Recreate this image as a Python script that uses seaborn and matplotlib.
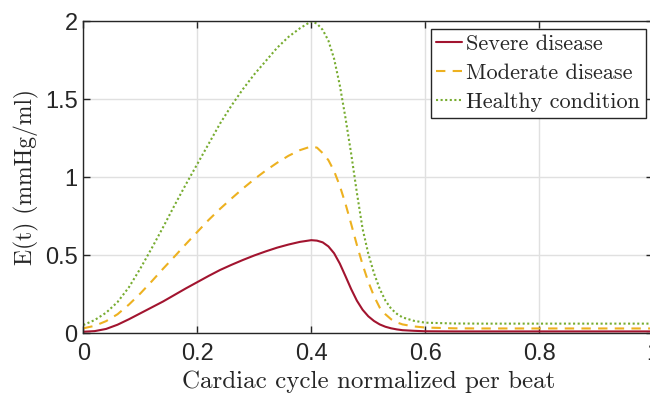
import numpy as np
import pandas as pd
import matplotlib
matplotlib.use('Agg')
import matplotlib.pyplot as plt
import seaborn as sns

# normalized cardiac cycle (denser sampling on the steep fall)
t_beat = [0.00, 0.02, 0.04, 0.06, 0.08, 0.10, 0.12, 0.14, 0.16, 0.18, 0.20,
          0.22, 0.24, 0.26, 0.28, 0.30, 0.32, 0.34, 0.36, 0.38, 0.40,
          0.41, 0.42, 0.43, 0.44, 0.45, 0.46, 0.47, 0.48, 0.49, 0.50,
          0.51, 0.52, 0.53, 0.54, 0.55, 0.56, 0.58, 0.60, 0.65, 0.70,
          0.80, 0.90, 1.00]

# elastance E(t), values
severe = [0.010, 0.014, 0.028, 0.055, 0.090, 0.128, 0.166, 0.204, 0.246, 0.288, 0.328,
          0.368, 0.406, 0.439, 0.470, 0.499, 0.525, 0.549, 0.569, 0.586, 0.597,
          0.594, 0.583, 0.557, 0.513, 0.447, 0.366, 0.283, 0.209, 0.151, 0.109,
          0.079, 0.057, 0.042, 0.032, 0.025, 0.020, 0.016, 0.013, 0.012, 0.012,
          0.012, 0.012, 0.012]
moderate = [0.032, 0.048, 0.078, 0.122, 0.184, 0.255, 0.333, 0.414, 0.492, 0.572, 0.650,
            0.727, 0.798, 0.864, 0.928, 0.988, 1.043, 1.093, 1.138, 1.174, 1.198,
            1.190, 1.155, 1.110, 1.040, 0.945, 0.830, 0.700, 0.566, 0.440, 0.330,
            0.238, 0.165, 0.122, 0.090, 0.070, 0.057, 0.044, 0.037, 0.032, 0.031,
            0.031, 0.031, 0.031]
healthy = [0.053, 0.085, 0.132, 0.200, 0.295, 0.415, 0.545, 0.680, 0.820, 0.955, 1.085,
           1.215, 1.345, 1.460, 1.565, 1.660, 1.745, 1.830, 1.900, 1.955, 2.000,
           1.985, 1.945, 1.876, 1.760, 1.590, 1.380, 1.150, 0.900, 0.670, 0.510,
           0.385, 0.285, 0.210, 0.158, 0.125, 0.102, 0.080, 0.068, 0.063, 0.062,
           0.062, 0.062, 0.062]

series_names = ['Severe disease', 'Moderate disease', 'Healthy condition']
x_ticks = [0, 0.2, 0.4, 0.6, 0.8, 1]
y_ticks = [0, 0.5, 1, 1.5, 2]

df = pd.DataFrame({'t': t_beat, series_names[0]: severe,
                   series_names[1]: moderate, series_names[2]: healthy})

sns.set_style('whitegrid')
plt.rcParams['font.family'] = ['Liberation Sans', 'DejaVu Sans']

fig = plt.figure(figsize=(6.5, 3.95), dpi=100)
ax = fig.add_axes([83.3 / 650, (395 - 333.3) / 395, 570 / 650, 312 / 395])

colors = ['#A2142F', '#EDB120', '#77AC30']
styles = ['-', (0, (4.5, 3.5)), (0, (1, 1.2))]
for name, c, ls in zip(series_names, colors, styles):
    sns.lineplot(data=df, x='t', y=name, ax=ax, color=c, linestyle=ls,
                 linewidth=1.5, label=name)

ax.set_xlim(0, 1)
ax.set_ylim(0, 2)
ax.set_xticks(x_ticks)
ax.set_yticks(y_ticks)
ax.set_xticklabels([f'{v:g}' for v in x_ticks])
ax.set_yticklabels([f'{v:g}' for v in y_ticks])
ax.tick_params(direction='in', length=5, width=1, color='#262626',
               labelsize=17, labelcolor='#262626', top=True, right=True,
               bottom=True, left=True, pad=4)
ax.tick_params(axis='x', pad=7)
ax.grid(True, color='#e0e0e0', linewidth=1)
for sp in ax.spines.values():
    sp.set_visible(True)
    sp.set_color('#262626')
    sp.set_linewidth(1)

ax.set_xlabel('Cardiac cycle normalized per beat', family='cmr10', fontsize=18,
              color='#262626', labelpad=4)
ax.set_ylabel('E(t) (mmHg/ml)', family='cmr10', fontsize=17, color='#262626',
              labelpad=4)

leg = ax.legend(loc='upper right', prop={'family': 'cmr10', 'size': 16},
                frameon=True, fancybox=False, shadow=False, framealpha=1,
                handlelength=1.15, handletextpad=0.2, borderaxespad=0.35,
                borderpad=0.25, labelspacing=0.42)
leg.get_frame().set_edgecolor('#262626')
leg.get_frame().set_linewidth(1)

fig.savefig('out.png', dpi=100)
